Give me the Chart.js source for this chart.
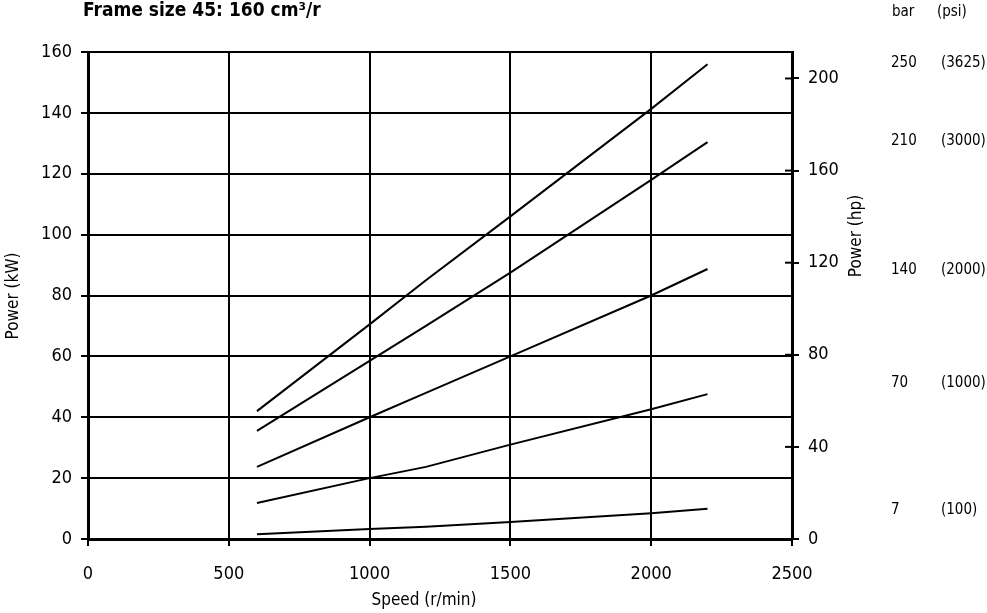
<!DOCTYPE html>
<html>
<head>
<meta charset="utf-8">
<script src="https://cdn.jsdelivr.net/npm/chart.js@4.4.1/dist/chart.umd.min.js"></script>
<style>
  html, body { margin: 0; padding: 0; background: #fff; }
  #wrap { width: 987px; height: 613px; position: relative; }
</style>
</head>
<body>
<div id="wrap"><canvas id="c" width="987" height="613"></canvas></div>
<script>
// ---- data ----
const speed = [600, 1000, 1200, 1500, 2000, 2200];
const p250 = [42, 70.5, 85, 106, 141.3, 156];
const p210 = [35.5, 58.5, 70, 87.5, 118, 130.4];
const p140 = [23.7, 40, 48, 60, 80, 88.7];
const p70  = [11.8, 20, 23.7, 31, 42.6, 47.6];
const p7   = [1.6, 3.3, 4, 5.6, 8.5, 9.9];
const barLabels = ['250', '210', '140', '70', '7'];
const psiLabels = ['(3625)', '(3000)', '(2000)', '(1000)', '(100)'];
const speedTicks = [0, 500, 1000, 1500, 2000, 2500];
const kwTicks = [0, 20, 40, 60, 80, 100, 120, 140, 160];
const hpTicks = [0, 40, 80, 120, 160, 200];
const titleText = 'Frame size 45: 160 cm³/r';

const FONT = "'Liberation Sans Narrow', 'DejaVu Sans Condensed', 'Roboto Condensed', Roboto, sans-serif";
const series = [p250, p210, p140, p70, p7];

const datasets = series.map((arr, i) => ({
  label: barLabels[i] + ' bar',
  data: speed.map((s, j) => ({ x: s, y: arr[j] })),
  borderColor: '#000',
  borderWidth: 2,
  pointRadius: 0,
  fill: false,
  tension: 0,
  yAxisID: 'y'
}));
datasets.push({ label: 'hp', data: [], yAxisID: 'y1', showLine: false, pointRadius: 0 });

const plainNum = v => String(v);

const decor = {
  id: 'decor',
  afterDraw(chart) {
    const ctx = chart.ctx;
    const a = chart.chartArea;
    const y1 = chart.scales.y1;
    const y = chart.scales.y;
    ctx.save();
    ctx.strokeStyle = '#000';
    ctx.lineWidth = 2;
    hpTicks.forEach(v => {
      const py = y1.getPixelForValue(v);
      ctx.beginPath();
      ctx.moveTo(a.right - 7, py);
      ctx.lineTo(a.right, py);
      ctx.stroke();
    });
    ctx.fillStyle = '#000';
    ctx.font = "bold 19px " + FONT;
    ctx.textAlign = 'left';
    ctx.textBaseline = 'middle';
    ctx.fillText(titleText, 83, 11);
    ctx.font = "17px " + FONT;
    ctx.textAlign = 'center';
    ctx.fillText('Speed (r/min)', 424, 601);
    ctx.save();
    ctx.translate(14, 296);
    ctx.rotate(-Math.PI / 2);
    ctx.fillText('Power (kW)', 0, 0);
    ctx.restore();
    ctx.save();
    ctx.translate(857, 236);
    ctx.rotate(-Math.PI / 2);
    ctx.fillText('Power (hp)', 0, 0);
    ctx.restore();
    ctx.textAlign = 'left';
    ctx.font = "15px " + FONT;
    ctx.fillText('bar', 892, 12);
    ctx.fillText('(psi)', 937, 12);
    const labelKw = [156.3, 130.8, 88.5, 51.3, 9.6];
    labelKw.forEach((v, i) => {
      const py = y.getPixelForValue(v);
      ctx.fillText(barLabels[i], 891, py);
      ctx.fillText(psiLabels[i], 941, py);
    });
    ctx.restore();
  }
};

new Chart(document.getElementById('c'), {
  type: 'line',
  data: { datasets },
  options: {
    responsive: false,
    animation: false,
    devicePixelRatio: 1,
    layout: { padding: { top: 52, left: 0, right: 0, bottom: 0 } },
    plugins: { legend: { display: false }, tooltip: { enabled: false }, title: { display: false } },
    scales: {
      x: {
        type: 'linear',
        min: 0, max: 2500,
        afterBuildTicks: s => { s.ticks = speedTicks.map(v => ({ value: v })); },
        afterFit: s => { s.height = 74; },
        grid: { color: '#000', lineWidth: 2, drawTicks: true, tickLength: 7, tickColor: '#000' },
        border: { display: true, color: '#000', width: 3 },
        ticks: { color: '#000', font: { family: FONT, size: 18 }, padding: 18, maxRotation: 0, callback: plainNum }
      },
      y: {
        type: 'linear', position: 'left',
        min: 0, max: 160,
        afterBuildTicks: s => { s.ticks = kwTicks.map(v => ({ value: v })); },
        afterFit: s => { s.width = 88; },
        grid: { color: '#000', lineWidth: 2, drawTicks: true, tickLength: 7, tickColor: '#000' },
        border: { display: true, color: '#000', width: 3 },
        ticks: { color: '#000', font: { family: FONT, size: 18 }, padding: 9, callback: plainNum }
      },
      y1: {
        type: 'linear', position: 'right',
        min: 0, max: 211.5,
        afterBuildTicks: s => { s.ticks = hpTicks.map(v => ({ value: v })); },
        afterFit: s => { s.width = 195; },
        grid: { drawOnChartArea: false, color: '#000', lineWidth: 2, drawTicks: true, tickLength: 7, tickColor: '#000' },
        border: { display: true, color: '#000', width: 3 },
        ticks: { color: '#000', font: { family: FONT, size: 18 }, padding: 9, callback: plainNum }
      }
    }
  },
  plugins: [decor]
});
</script>
</body>
</html>
